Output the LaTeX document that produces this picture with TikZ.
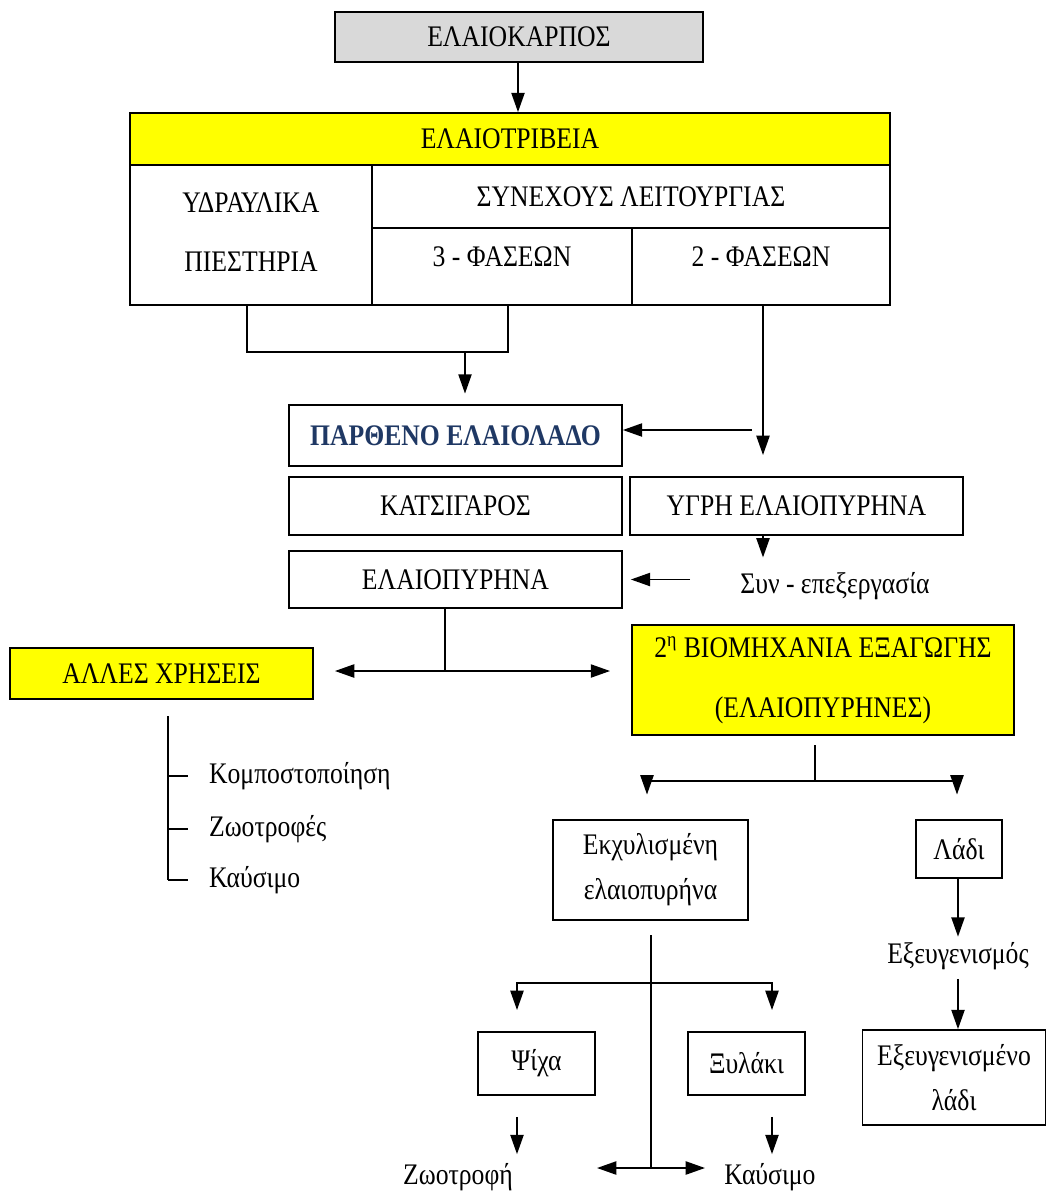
\documentclass[tikz,border=0pt]{standalone}
\usepackage{fontspec}
\setmainfont{Liberation Serif}[FakeStretch=0.86]
\usepackage{xcolor}
\usepackage{tikz}
\usetikzlibrary{arrows.meta}
\definecolor{oilyellow}{RGB}{255,255,0}
\definecolor{oilgrey}{RGB}{217,217,217}
\definecolor{oilnavy}{RGB}{31,56,100}
\tikzstyle{cell} = [rectangle, draw=black, line width=1pt, inner sep=0pt, text centered]
\tikzstyle{greybox} = [cell, fill=oilgrey]
\tikzstyle{yellowbox} = [cell, fill=oilyellow]
\tikzstyle{plain} = [inner sep=1pt]
\tikzstyle{arrow} = [line width=1pt, ->, >={Stealth[length=11pt, width=7.5pt, inset=0pt]}]
\tikzstyle{twoway} = [arrow, <->]
\tikzstyle{line} = [line width=1pt]

\begin{document}
\begin{tikzpicture}[x=0.02cm, y=-0.02cm, font=\fontsize{17}{20}\selectfont]
\useasboundingbox (0,0) rectangle (1048,1198);

% mill table
\node (karpos) [greybox, minimum width=7.36cm, minimum height=1cm] at (519,37) {ΕΛΑΙΟΚΑΡΠΟΣ};
\node (mill) [yellowbox, minimum width=15.2cm, minimum height=1.04cm] at (510,139) {ΕΛΑΙΟΤΡΙΒΕΙΑ};
\node (hydr) [cell, minimum width=4.84cm, minimum height=2.8cm] at (251,235) {\raisebox{0.42cm}{\begin{tabular}{@{}c@{}}ΥΔΡΑΥΛΙΚΑ\\[0.48cm]ΠΙΕΣΤΗΡΙΑ\end{tabular}}};
\node (cont) [cell, minimum width=10.36cm, minimum height=1.26cm] at (631,196.5) {ΣΥΝΕΧΟΥΣ ΛΕΙΤΟΥΡΓΙΑΣ};
\node (three) [cell, minimum width=5.2cm, minimum height=1.54cm] at (502,266.5) {\raisebox{0.4cm}{3 - ΦΑΣΕΩΝ}};
\node (two) [cell, minimum width=5.16cm, minimum height=1.54cm] at (761,266.5) {\raisebox{0.4cm}{2 - ΦΑΣΕΩΝ}};

% products
\node (parth) [cell, minimum width=6.66cm, minimum height=1.22cm, font=\fontsize{17}{20}\selectfont\bfseries, text=oilnavy] at (455.5,435.5) {ΠΑΡΘΕΝΟ ΕΛΑΙΟΛΑΔΟ};
\node (kats) [cell, minimum width=6.66cm, minimum height=1.16cm] at (455.5,506) {ΚΑΤΣΙΓΑΡΟΣ};
\node (ygri) [cell, minimum width=6.66cm, minimum height=1.16cm] at (796.5,506) {ΥΓΡΗ ΕΛΑΙΟΠΥΡΗΝΑ};
\node (pyr) [cell, minimum width=6.66cm, minimum height=1.14cm] at (455.5,579.5) {ΕΛΑΙΟΠΥΡΗΝΑ};
\node (syn) [plain] at (835,586) {Συν - επεξεργασία};

\node (alles) [yellowbox, minimum width=6.06cm, minimum height=1.02cm] at (161.5,673.5) {ΑΛΛΕΣ ΧΡΗΣΕΙΣ};
\node (bio) [yellowbox, minimum width=7.64cm, minimum height=2.2cm, align=center] at (823,680) {2\textsuperscript{η} ΒΙΟΜΗΧΑΝΙΑ ΕΞΑΓΩΓΗΣ\\[0.5cm](ΕΛΑΙΟΠΥΡΗΝΕΣ)};

\node (use1) [plain, anchor=west] at (207,776) {Κομποστοποίηση};
\node (use2) [plain, anchor=west] at (207,829) {Ζωοτροφές};
\node (use3) [plain, anchor=west] at (207,880) {Καύσιμο};

\node (ekx) [cell, minimum width=3.9cm, minimum height=2cm, align=center] at (650.5,870) {Εκχυλισμένη\\[0.2cm]ελαιοπυρήνα};
\node (ladi) [cell, minimum width=1.72cm, minimum height=1.16cm] at (959,849) {Λάδι};
\node (exev) [plain] at (958,956) {Εξευγενισμός};
\node (exlad) [cell, minimum width=3.66cm, minimum height=1.9cm, align=center] at (954,1077.5) {Εξευγενισμένο\\[0.2cm]λάδι};

\node (psi) [cell, minimum width=2.34cm, minimum height=1.26cm] at (536.5,1063.5) {Ψίχα};
\node (xyl) [cell, minimum width=2.34cm, minimum height=1.26cm] at (746.5,1063.5) {Ξυλάκι};
\node (zwo) [plain] at (458,1177) {Ζωοτροφή};
\node (kaus) [plain] at (770,1177) {Καύσιμο};

\coordinate (press) at (247,352);
\coordinate (fork) at (445,671);
\coordinate (usetop) at (168,716);
\coordinate (biofork) at (815,781);
\coordinate (ekxfork) at (651,983);
\coordinate (stem) at (651,1168);

% connectors
\draw[arrow] (karpos.south -| 518,0) -- (mill.north -| 518,0);
\draw[line] (press |- hydr.south) -- (press) -| (508,305);
\draw[arrow, shorten >=6pt] (press -| 465,0) -- (parth.north -| 465,0);
\draw[arrow, shorten >=12pt] (763,305) -- (ygri.north -| 763,0);
\draw[arrow] (752,430) -- (parth.east |- 752,430);
\draw[arrow, shorten >=6pt] (ygri.south -| 763,0) -- (763,568);
\draw[arrow] (syn.west |- pyr.east) ++(-48,0) -- ([xshift=0.16cm]pyr.east);
\draw[line] (fork |- pyr.south) -- (fork);
\draw[twoway, shorten <=12pt, shorten >=12pt] (alles.east |- fork) -- (bio.west |- fork);

\draw[line] (usetop) -- (usetop |- use3.west);
\foreach \u in {use1,use2,use3}
  \draw[line] (usetop |- \u.west) -- ++(20,0);

\draw[line] (biofork |- 0,745) -- (biofork);
\draw[arrow, shorten >=14pt] (biofork) -| (ekx.north -| 647,0);
\draw[arrow, shorten >=14pt] (biofork) -| (ladi.north -| 957,0);
\draw[arrow, shorten >=2pt] (ladi.south -| 958,0) -- (exev.north -| 958,0);
\draw[arrow, shorten <=4pt] (exev.south -| 958,0) -- (exlad.north -| 958,0);

\draw[line] (ekxfork |- 0,935) -- (stem);
\draw[arrow, shorten >=12pt] (ekxfork) -| (psi.north -| 517,0);
\draw[arrow, shorten >=12pt] (ekxfork) -| (xyl.north -| 772,0);
\draw[arrow, shorten <=12pt, shorten >=4pt] (psi.south -| 517,0) -- (zwo.north -| 517,0);
\draw[arrow, shorten <=12pt, shorten >=4pt] (xyl.south -| 772,0) -- (kaus.north -| 772,0);
\draw[twoway] (stem -| 597,0) -- (stem -| 705,0);

\end{tikzpicture}
\end{document}
